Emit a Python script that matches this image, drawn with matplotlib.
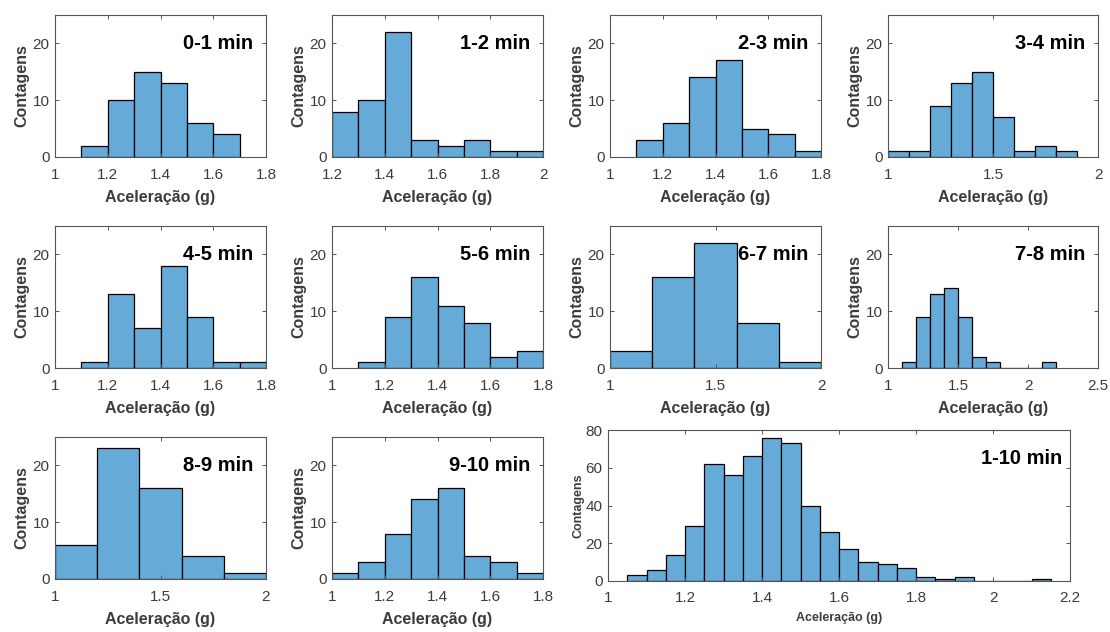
import matplotlib
matplotlib.use("Agg")
import matplotlib.pyplot as plt
from matplotlib.ticker import FuncFormatter

plt.rcParams['font.family'] = ['Liberation Sans', 'DejaVu Sans']

# Histogram counts per one-minute window (bin start, bin width, counts)
start_0_1, width_0_1, counts_0_1 = 1.1, 0.1, [2, 10, 15, 13, 6, 4]
start_1_2, width_1_2, counts_1_2 = 1.2, 0.1, [8, 10, 22, 3, 2, 3, 1, 1]
start_2_3, width_2_3, counts_2_3 = 1.1, 0.1, [3, 6, 14, 17, 5, 4, 1]
start_3_4, width_3_4, counts_3_4 = 1.0, 0.1, [1, 1, 9, 13, 15, 7, 1, 2, 1]
start_4_5, width_4_5, counts_4_5 = 1.1, 0.1, [1, 13, 7, 18, 9, 1, 1]
start_5_6, width_5_6, counts_5_6 = 1.1, 0.1, [1, 9, 16, 11, 8, 2, 3]
start_6_7, width_6_7, counts_6_7 = 1.0, 0.2, [3, 16, 22, 8, 1]
start_7_8, width_7_8, counts_7_8 = 1.1, 0.1, [1, 9, 13, 14, 9, 2, 1, 0, 0, 0, 1]
start_8_9, width_8_9, counts_8_9 = 1.0, 0.2, [6, 23, 16, 4, 1]
start_9_10, width_9_10, counts_9_10 = 1.0, 0.1, [1, 3, 8, 14, 16, 4, 3, 1]
start_all, width_all, counts_all = 1.05, 0.05, [3, 6, 14, 29, 62, 56, 66, 76, 73, 40, 26,
                                                17, 10, 9, 7, 2, 1, 2, 0, 0, 0, 1]

titles = ['0-1 min', '1-2 min', '2-3 min', '3-4 min', '4-5 min', '5-6 min',
          '6-7 min', '7-8 min', '8-9 min', '9-10 min', '1-10 min']

xlims = [(1, 1.8), (1.2, 2), (1, 1.8), (1, 2), (1, 1.8), (1, 1.8),
         (1, 2), (1, 2.5), (1, 2), (1, 1.8), (1, 2.2)]
xticks = [[1, 1.2, 1.4, 1.6, 1.8], [1.2, 1.4, 1.6, 1.8, 2], [1, 1.2, 1.4, 1.6, 1.8],
          [1, 1.5, 2], [1, 1.2, 1.4, 1.6, 1.8], [1, 1.2, 1.4, 1.6, 1.8],
          [1, 1.5, 2], [1, 1.5, 2, 2.5], [1, 1.5, 2], [1, 1.2, 1.4, 1.6, 1.8],
          [1, 1.2, 1.4, 1.6, 1.8, 2, 2.2]]

data = [(start_0_1, width_0_1, counts_0_1), (start_1_2, width_1_2, counts_1_2),
        (start_2_3, width_2_3, counts_2_3), (start_3_4, width_3_4, counts_3_4),
        (start_4_5, width_4_5, counts_4_5), (start_5_6, width_5_6, counts_5_6),
        (start_6_7, width_6_7, counts_6_7), (start_7_8, width_7_8, counts_7_8),
        (start_8_9, width_8_9, counts_8_9), (start_9_10, width_9_10, counts_9_10),
        (start_all, width_all, counts_all)]

W, H = 1110, 632
fig = plt.figure(figsize=(W / 100, H / 100), dpi=100)

# axes boxes in pixels: left, top, right, bottom
cols = [(55, 266), (332, 543), (610, 821), (888, 1098)]
rows = [(15, 157), (226, 368), (437, 579)]
boxes = []
for r in range(3):
    for c in range(4):
        if r == 2 and c >= 2:
            continue
        boxes.append((cols[c][0], rows[r][0], cols[c][1], rows[r][1]))
boxes.append((608, 430, 1070, 581))

FACE = '#66aad7'
TXT = '#3c3c3c'
AX = '#555555'

fmt = FuncFormatter(lambda v, p: '%g' % round(v, 3))

for i, ((l, t, r, b), (s, w, cnt)) in enumerate(zip(boxes, data)):
    ax = fig.add_axes([l / W, 1 - b / H, (r - l) / W, (b - t) / H])
    lefts = [s + k * w for k in range(len(cnt))]
    ax.bar(lefts, cnt, width=w, align='edge', color=FACE,
           edgecolor='black', linewidth=0.9)
    big = (i == 10)
    ax.set_xlim(*xlims[i])
    ax.set_ylim(0, 80 if big else 25)
    ax.set_xticks(xticks[i])
    ax.set_yticks([0, 20, 40, 60, 80] if big else [0, 10, 20])
    ax.xaxis.set_major_formatter(fmt)
    ax.tick_params(direction='in', length=3, width=0.7, color=AX,
                   top=True, right=True, labelsize=11, labelcolor=TXT)
    ax.tick_params(axis='x', pad=8 if not big else 7)
    ax.tick_params(axis='y', pad=4)
    for sp in ax.spines.values():
        sp.set_color(AX)
        sp.set_linewidth(0.8)
    if big:
        ax.set_xlabel('Aceleração (g)', fontsize=9, fontweight='bold', color=TXT, labelpad=5)
        ax.set_ylabel('Contagens', fontsize=9, fontweight='bold', color=TXT, labelpad=1)
        ax.text(0.983, 0.81, titles[i], transform=ax.transAxes, ha='right', va='center',
                fontsize=14.5, fontweight='bold', color='black')
    else:
        ax.set_xlabel('Aceleração (g)', fontsize=11.5, fontweight='bold', color=TXT, labelpad=6)
        ax.set_ylabel('Contagens', fontsize=11.5, fontweight='bold', color=TXT, labelpad=2)
        ax.text(0.94, 0.80, titles[i], transform=ax.transAxes, ha='right', va='center',
                fontsize=14.5, fontweight='bold', color='black')

fig.savefig('out.png', dpi=100, facecolor='white')
